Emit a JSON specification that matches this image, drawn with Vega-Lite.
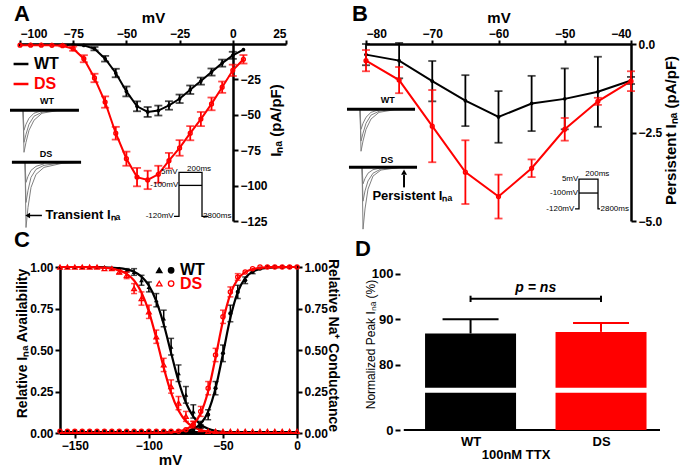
{
"$schema":"https://vega.github.io/schema/vega-lite/v6.json",
"background":"white",
"padding":{"left":8,"top":3,"right":4,"bottom":4},
"config":{"view":{"stroke":null},"font":"Liberation Sans",
"axis":{"grid":false,"domainColor":"black","domainWidth":2.5,"tickColor":"black","tickWidth":2,"tickSize":5,"labelFont":"Liberation Sans","labelFontSize":12,"labelFontWeight":"bold","labelColor":"black","titleFont":"Liberation Sans","titleFontSize":15,"titleFontWeight":"bold","titleColor":"black","labelPadding":2},
"title":{"fontSize":22,"fontWeight":"bold","font":"Liberation Sans","anchor":"start","color":"black","frame":"group"}},
"datasets":{
"a":[
{"v":-100,"wt":-0.5,"ewt":0,"ds":-0.8,"eds":0},
{"v":-95,"wt":-0.5,"ewt":0,"ds":-0.8,"eds":0},
{"v":-90,"wt":-0.5,"ewt":0,"ds":-0.8,"eds":0},
{"v":-85,"wt":-0.5,"ewt":0,"ds":-0.9,"eds":0},
{"v":-80,"wt":-0.5,"ewt":0,"ds":-1.2,"eds":0.5},
{"v":-75,"wt":-0.6,"ewt":0,"ds":-3.3,"eds":1.5},
{"v":-70,"wt":-1.0,"ewt":0,"ds":-10.4,"eds":2.5},
{"v":-65,"wt":-3.3,"ewt":1.2,"ds":-24,"eds":3},
{"v":-60,"wt":-10.4,"ewt":2,"ds":-41,"eds":4},
{"v":-55,"wt":-20.5,"ewt":3,"ds":-63,"eds":4.5},
{"v":-50,"wt":-33.5,"ewt":3.5,"ds":-81,"eds":5},
{"v":-45,"wt":-44,"ewt":3.5,"ds":-94,"eds":6.5},
{"v":-40,"wt":-48,"ewt":3.5,"ds":-96,"eds":6.5},
{"v":-35,"wt":-47,"ewt":3.5,"ds":-92,"eds":6},
{"v":-30,"wt":-43.4,"ewt":3,"ds":-82.4,"eds":5.5},
{"v":-25,"wt":-38.7,"ewt":3,"ds":-73.4,"eds":5.5},
{"v":-20,"wt":-32.3,"ewt":3,"ds":-63,"eds":5},
{"v":-15,"wt":-26.2,"ewt":2.5,"ds":-53,"eds":5},
{"v":-10,"wt":-19.8,"ewt":2.5,"ds":-42.3,"eds":4.5},
{"v":-5,"wt":-13.5,"ewt":2.5,"ds":-30.5,"eds":4},
{"v":0,"wt":-8,"ewt":2.5,"ds":-18.6,"eds":4},
{"v":5,"wt":-4,"ewt":0,"ds":-10.8,"eds":3}
],
"b":[
{"v":-80,"wt":-0.30,"ewt":0.3,"ds":-0.47,"eds":0.3},
{"v":-75,"wt":-0.47,"ewt":0.5,"ds":-1.02,"eds":0.37},
{"v":-70,"wt":-1.05,"ewt":0.57,"ds":-2.32,"eds":1.02},
{"v":-65,"wt":-1.6,"ewt":0.72,"ds":-3.62,"eds":0.9},
{"v":-60,"wt":-2.06,"ewt":0.73,"ds":-4.31,"eds":0.62},
{"v":-55,"wt":-1.68,"ewt":0.78,"ds":-3.51,"eds":0.25},
{"v":-50,"wt":-1.55,"ewt":0.86,"ds":-2.41,"eds":0.32},
{"v":-45,"wt":-1.35,"ewt":0.99,"ds":-1.62,"eds":0.1},
{"v":-40,"wt":-1.03,"ewt":0.1,"ds":-1.05,"eds":0.28}
],
"ta":[
{"id":"w1","x":-98.59,"y":-46.74},{"id":"w1","x":-98.12,"y":-76.49},{"id":"w1","x":-97.18,"y":-69.41},{"id":"w1","x":-95.77,"y":-60.91},{"id":"w1","x":-93.42,"y":-53.82},{"id":"w1","x":-89.66,"y":-48.87},{"id":"w1","x":-82.61,"y":-47.1},{"id":"w1","x":-73.21,"y":-46.74},
{"id":"w2","x":-98.59,"y":-46.74},{"id":"w2","x":-98.12,"y":-69.41},{"id":"w2","x":-97.18,"y":-63.74},{"id":"w2","x":-95.77,"y":-56.66},{"id":"w2","x":-93.42,"y":-50.99},{"id":"w2","x":-89.66,"y":-48.16},{"id":"w2","x":-82.61,"y":-46.74},
{"id":"w3","x":-98.59,"y":-46.74},{"id":"w3","x":-98.12,"y":-60.91},{"id":"w3","x":-97.18,"y":-56.66},{"id":"w3","x":-95.77,"y":-52.41},{"id":"w3","x":-93.42,"y":-48.87},{"id":"w3","x":-89.66,"y":-47.1},
{"id":"d1","x":-97.65,"y":-83.57},{"id":"d1","x":-97.18,"y":-129.6},{"id":"d1","x":-96.24,"y":-115.4},{"id":"d1","x":-94.83,"y":-101.3},{"id":"d1","x":-92.48,"y":-92.07},{"id":"d1","x":-88.72,"y":-87.11},{"id":"d1","x":-80.26,"y":-84.28},{"id":"d1","x":-71.33,"y":-83.57},
{"id":"d2","x":-97.65,"y":-83.57},{"id":"d2","x":-97.18,"y":-111.9},{"id":"d2","x":-96.24,"y":-103.4},{"id":"d2","x":-94.83,"y":-94.19},{"id":"d2","x":-92.48,"y":-88.53},{"id":"d2","x":-88.72,"y":-85.69},{"id":"d2","x":-80.26,"y":-83.92},
{"id":"d3","x":-97.65,"y":-83.57},{"id":"d3","x":-97.18,"y":-97.73},{"id":"d3","x":-96.24,"y":-93.48},{"id":"d3","x":-94.83,"y":-89.24},{"id":"d3","x":-92.48,"y":-86.4},{"id":"d3","x":-88.72,"y":-84.63}
],
"tb":[
{"id":"w1","x":-80.91,"y":-1.84},{"id":"w1","x":-80.75,"y":-3.03},{"id":"w1","x":-80.45,"y":-2.74},{"id":"w1","x":-80,"y":-2.41},{"id":"w1","x":-79.25,"y":-2.12},{"id":"w1","x":-78.04,"y":-1.93},{"id":"w1","x":-75.77,"y":-1.86},{"id":"w1","x":-72.6,"y":-1.84},
{"id":"w2","x":-80.91,"y":-1.84},{"id":"w2","x":-80.75,"y":-2.74},{"id":"w2","x":-80.45,"y":-2.52},{"id":"w2","x":-80,"y":-2.24},{"id":"w2","x":-79.25,"y":-2.01},{"id":"w2","x":-78.04,"y":-1.9},{"id":"w2","x":-75.77,"y":-1.84},
{"id":"w3","x":-80.91,"y":-1.84},{"id":"w3","x":-80.75,"y":-2.41},{"id":"w3","x":-80.45,"y":-2.24},{"id":"w3","x":-80,"y":-2.07},{"id":"w3","x":-79.25,"y":-1.93},{"id":"w3","x":-78.04,"y":-1.86},
{"id":"d1","x":-80.6,"y":-3.48},{"id":"d1","x":-80.45,"y":-5.23},{"id":"d1","x":-80.15,"y":-4.66},{"id":"d1","x":-79.7,"y":-4.1},{"id":"d1","x":-78.94,"y":-3.73},{"id":"d1","x":-77.74,"y":-3.56},{"id":"d1","x":-75.02,"y":-3.49},{"id":"d1","x":-72.3,"y":-3.48},
{"id":"d2","x":-80.6,"y":-3.48},{"id":"d2","x":-80.45,"y":-4.44},{"id":"d2","x":-80.15,"y":-4.15},{"id":"d2","x":-79.7,"y":-3.87},{"id":"d2","x":-78.94,"y":-3.65},{"id":"d2","x":-77.74,"y":-3.53},{"id":"d2","x":-75.02,"y":-3.49},
{"id":"d3","x":-80.6,"y":-3.48},{"id":"d3","x":-80.45,"y":-3.95},{"id":"d3","x":-80.15,"y":-3.8},{"id":"d3","x":-79.7,"y":-3.65},{"id":"d3","x":-78.94,"y":-3.55},{"id":"d3","x":-77.74,"y":-3.5}
],
"c":[
{"v":-160,"wi":1,"ewi":0,"di":1,"edi":0,"wa":0.01,"ewa":0,"da":0.01,"eda":0,"fwi":1,"fdi":1,"fwa":0,"fda":0},
{"v":-155,"wi":1,"ewi":0,"di":1,"edi":0,"wa":0.01,"ewa":0,"da":0.01,"eda":0,"fwi":1,"fdi":1,"fwa":0,"fda":0},
{"v":-150,"wi":1,"ewi":0,"di":1,"edi":0,"wa":0.01,"ewa":0,"da":0.01,"eda":0,"fwi":1,"fdi":1,"fwa":0,"fda":0},
{"v":-145,"wi":1,"ewi":0,"di":1,"edi":0,"wa":0.01,"ewa":0,"da":0.01,"eda":0,"fwi":1,"fdi":1,"fwa":0,"fda":0},
{"v":-140,"wi":1,"ewi":0,"di":1,"edi":0,"wa":0.01,"ewa":0,"da":0.01,"eda":0,"fwi":1,"fdi":0.999,"fwa":0,"fda":0},
{"v":-135,"wi":1,"ewi":0,"di":1,"edi":0,"wa":0.01,"ewa":0,"da":0.01,"eda":0,"fwi":0.999,"fdi":0.998,"fwa":0,"fda":0},
{"v":-130,"wi":1,"ewi":0,"di":0.99,"edi":0,"wa":0.01,"ewa":0,"da":0.01,"eda":0,"fwi":0.998,"fdi":0.995,"fwa":0,"fda":0},
{"v":-125,"wi":0.99,"ewi":0,"di":0.99,"edi":0,"wa":0.01,"ewa":0,"da":0.01,"eda":0,"fwi":0.996,"fdi":0.99,"fwa":0,"fda":0},
{"v":-120,"wi":0.99,"ewi":0,"di":0.97,"edi":0.01,"wa":0.01,"ewa":0,"da":0.01,"eda":0,"fwi":0.993,"fdi":0.979,"fwa":0,"fda":0},
{"v":-115,"wi":0.98,"ewi":0.01,"di":0.95,"edi":0.02,"wa":0.01,"ewa":0,"da":0.01,"eda":0,"fwi":0.985,"fdi":0.959,"fwa":0,"fda":0},
{"v":-110,"wi":0.97,"ewi":0.02,"di":0.87,"edi":0.03,"wa":0.01,"ewa":0,"da":0.01,"eda":0,"fwi":0.971,"fdi":0.919,"fwa":0,"fda":0},
{"v":-105,"wi":0.92,"ewi":0.03,"di":0.81,"edi":0.04,"wa":0.01,"ewa":0,"da":0.01,"eda":0,"fwi":0.942,"fdi":0.847,"fwa":0,"fda":0},
{"v":-100,"wi":0.88,"ewi":0.03,"di":0.73,"edi":0.04,"wa":0.01,"ewa":0,"da":0.01,"eda":0,"fwi":0.888,"fdi":0.731,"fwa":0,"fda":0},
{"v":-95,"wi":0.80,"ewi":0.04,"di":0.58,"edi":0.04,"wa":0.01,"ewa":0,"da":0.01,"eda":0,"fwi":0.795,"fdi":0.571,"fwa":0,"fda":0.001},
{"v":-90,"wi":0.69,"ewi":0.05,"di":0.41,"edi":0.04,"wa":0.01,"ewa":0,"da":0.01,"eda":0,"fwi":0.655,"fdi":0.394,"fwa":0.001,"fda":0.001},
{"v":-85,"wi":0.52,"ewi":0.05,"di":0.28,"edi":0.04,"wa":0.01,"ewa":0,"da":0.01,"eda":0,"fwi":0.482,"fdi":0.242,"fwa":0.002,"fda":0.004},
{"v":-80,"wi":0.36,"ewi":0.05,"di":0.18,"edi":0.04,"wa":0.01,"ewa":0,"da":0.01,"eda":0,"fwi":0.313,"fdi":0.135,"fwa":0.004,"fda":0.009},
{"v":-75,"wi":0.23,"ewi":0.05,"di":0.10,"edi":0.03,"wa":0.01,"ewa":0,"da":0.02,"eda":0,"fwi":0.182,"fdi":0.071,"fwa":0.01,"fda":0.022},
{"v":-70,"wi":0.13,"ewi":0.04,"di":0.05,"edi":0.02,"wa":0.02,"ewa":0,"da":0.05,"eda":0.02,"fwi":0.099,"fdi":0.036,"fwa":0.024,"fda":0.052},
{"v":-65,"wi":0.05,"ewi":0.02,"di":0.02,"edi":0,"wa":0.04,"ewa":0.01,"da":0.13,"eda":0.03,"fwi":0.051,"fdi":0.018,"fwa":0.056,"fda":0.119},
{"v":-60,"wi":0.02,"ewi":0,"di":0.01,"edi":0,"wa":0.11,"ewa":0.03,"da":0.27,"eda":0.04,"fwi":0.026,"fdi":0.009,"fwa":0.129,"fda":0.251},
{"v":-55,"wi":0.01,"ewi":0,"di":0.01,"edi":0,"wa":0.27,"ewa":0.04,"da":0.47,"eda":0.04,"fwi":0.013,"fdi":0.004,"fwa":0.269,"fda":0.455},
{"v":-50,"wi":0.01,"ewi":0,"di":0.01,"edi":0,"wa":0.48,"ewa":0.05,"da":0.70,"eda":0.04,"fwi":0.006,"fdi":0.002,"fwa":0.477,"fda":0.674},
{"v":-45,"wi":0.01,"ewi":0,"di":0.01,"edi":0,"wa":0.72,"ewa":0.05,"da":0.85,"eda":0.03,"fwi":0.003,"fdi":0.001,"fwa":0.694,"fda":0.837},
{"v":-40,"wi":0.01,"ewi":0,"di":0.01,"edi":0,"wa":0.85,"ewa":0.04,"da":0.94,"eda":0.02,"fwi":0.002,"fdi":0,"fwa":0.849,"fda":0.927},
{"v":-35,"wi":0.01,"ewi":0,"di":0.01,"edi":0,"wa":0.92,"ewa":0.02,"da":0.97,"eda":0,"fwi":0.001,"fdi":0,"fwa":0.933,"fda":0.969},
{"v":-30,"wi":0.01,"ewi":0,"di":0.01,"edi":0,"wa":0.97,"ewa":0.01,"da":0.99,"eda":0,"fwi":0,"fdi":0,"fwa":0.972,"fda":0.987},
{"v":-25,"wi":0.01,"ewi":0,"di":0.01,"edi":0,"wa":0.99,"ewa":0,"da":1,"eda":0,"fwi":0,"fdi":0,"fwa":0.988,"fda":0.995},
{"v":-20,"wi":0.01,"ewi":0,"di":0.01,"edi":0,"wa":1,"ewa":0,"da":1,"eda":0,"fwi":0,"fdi":0,"fwa":0.995,"fda":0.998},
{"v":-15,"wi":0.01,"ewi":0,"di":0.01,"edi":0,"wa":1,"ewa":0,"da":1,"eda":0,"fwi":0,"fdi":0,"fwa":0.998,"fda":0.999},
{"v":-10,"wi":0.01,"ewi":0,"di":0.01,"edi":0,"wa":1,"ewa":0,"da":1,"eda":0,"fwi":0,"fdi":0,"fwa":0.999,"fda":1},
{"v":-5,"wi":0.01,"ewi":0,"di":0.01,"edi":0,"wa":1,"ewa":0,"da":1,"eda":0,"fwi":0,"fdi":0,"fwa":1,"fda":1},
{"v":0,"wi":0.01,"ewi":0,"di":0.01,"edi":0,"wa":1,"ewa":0,"da":1,"eda":0,"fwi":0,"fdi":0,"fwa":1,"fda":1}
]
},
"bounds":"flush",
"columns":2,
"spacing":{"row":46,"column":46},
"concat":[
{"width":266,"height":177,
"title":{"text":"A","dx":-6,"dy":20},
"data":{"name":"a"},
"encoding":{"x":{"field":"v","type":"quantitative","scale":{"domain":[-100,25],"nice":false},"axis":{"orient":"top","values":[-100,-75,-50,-25,0,25],"title":"mV","titlePadding":2,"tickSize":4,"labelPadding":0}}},
"layer":[
{"mark":{"type":"line","strokeWidth":2},"encoding":{"y":{"field":"wt","type":"quantitative","title":"Iₙₐ (pA/pF)","scale":{"domain":[-125,0],"nice":false},"axis":{"orient":"right","offset":-53,"values":[-25,-50,-75,-100,-125],"titleAngle":270,"titleX":42,"titleY":76,"titleAlign":"center","titleBaseline":"middle"}},
 "color":{"datum":"WT","scale":{"domain":["WT","DS"],"range":["#000000","#ff0000"]},"legend":{"orient":"none","legendX":-8,"legendY":11,"title":null,"labelFontSize":16,"labelFontWeight":"bold","labelFont":"Liberation Sans","symbolType":"M-1,0L1,0","symbolStrokeWidth":2.5,"symbolSize":220,"rowPadding":3,"labelOffset":4,"encode":{"labels":{"update":{"fill":{"scale":"color","field":"value"}}}}}}}},
{"transform":[{"filter":"datum.ewt > 0"}],"mark":{"type":"errorbar","ticks":true,"size":8,"thickness":1.8,"color":"#000000"},"encoding":{"y":{"field":"wt","type":"quantitative","title":"Iₙₐ (pA/pF)"},"yError":{"field":"ewt"}}},
{"mark":{"type":"point","filled":true,"size":14,"color":"#000000","opacity":1},"encoding":{"y":{"field":"wt","type":"quantitative","title":"Iₙₐ (pA/pF)"}}},
{"mark":{"type":"line","strokeWidth":2},"encoding":{"y":{"field":"ds","type":"quantitative","title":"Iₙₐ (pA/pF)"},"color":{"datum":"DS"}}},
{"transform":[{"filter":"datum.eds > 0"}],"mark":{"type":"errorbar","ticks":true,"size":8,"thickness":1.8,"color":"#ff0000"},"encoding":{"y":{"field":"ds","type":"quantitative","title":"Iₙₐ (pA/pF)"},"yError":{"field":"eds"}}},
{"mark":{"type":"point","filled":false,"size":14,"color":"#ff0000","strokeWidth":1.5,"opacity":1},"encoding":{"y":{"field":"ds","type":"quantitative","title":"Iₙₐ (pA/pF)"}}},
{"data":{"name":"ta"},"mark":{"type":"line","color":"#808080","strokeWidth":1},"encoding":{"x":{"field":"x","type":"quantitative"},"y":{"field":"y","type":"quantitative","title":"Iₙₐ (pA/pF)"},"detail":{"field":"id"}}},
{"data":{"values":[{"x":-104.7,"x2":-72.3,"y":-46.74},{"x":-103.8,"x2":-71.3,"y":-83.57}]},"mark":{"type":"rule","color":"#000000","strokeWidth":3},"encoding":{"x":{"field":"x","type":"quantitative"},"x2":{"field":"x2"},"y":{"field":"y","type":"quantitative","title":"Iₙₐ (pA/pF)"}}},
{"data":{"values":[{"id":"p","o":1,"x":-27.63,"y":-121.8},{"id":"p","o":2,"x":-25.28,"y":-121.8},{"id":"p","o":3,"x":-25.28,"y":-90.65},{"id":"p","o":4,"x":-14.47,"y":-90.65},{"id":"p","o":5,"x":-14.47,"y":-121.8},{"id":"p","o":6,"x":-11.65,"y":-121.8},{"id":"m","o":1,"x":-25.28,"y":-99.86},{"id":"m","o":2,"x":-14.47,"y":-99.86}]},"mark":{"type":"line","color":"#000000","strokeWidth":1.3},"encoding":{"x":{"field":"x","type":"quantitative"},"y":{"field":"y","type":"quantitative","title":"Iₙₐ (pA/pF)"},"detail":{"field":"id"},"order":{"field":"o"}}},
{"data":{"values":[{"x":-26.0,"y":-90.65,"t":"5mV"},{"x":-25.6,"y":-99.86,"t":"-100mV"},{"x":-27.8,"y":-121.8,"t":"-120mV"}]},"mark":{"type":"text","align":"right","baseline":"middle","fontSize":8,"color":"#000000"},"encoding":{"x":{"field":"x","type":"quantitative"},"y":{"field":"y","type":"quantitative","title":"Iₙₐ (pA/pF)"},"text":{"field":"t"}}},
{"data":{"values":[{"x":-21.5,"y":-88.0,"t":"200ms"},{"x":-14.0,"y":-121.8,"t":"2800ms"}]},"mark":{"type":"text","align":"left","baseline":"middle","fontSize":8,"color":"#000000"},"encoding":{"x":{"field":"x","type":"quantitative"},"y":{"field":"y","type":"quantitative","title":"Iₙₐ (pA/pF)"},"text":{"field":"t"}}},
{"data":{"values":[{"x":-87.3,"y":-40.4,"t":"WT"},{"x":-87.8,"y":-77.9,"t":"DS"}]},"mark":{"type":"text","align":"center","baseline":"middle","fontSize":9,"fontWeight":"bold","color":"#000000"},"encoding":{"x":{"field":"x","type":"quantitative"},"y":{"field":"y","type":"quantitative","title":"Iₙₐ (pA/pF)"},"text":{"field":"t"}}},
{"data":{"values":[{"x":-89.7,"x2":-96.2,"y":-121.1}]},"mark":{"type":"rule","color":"#000000","strokeWidth":1.5},"encoding":{"x":{"field":"x","type":"quantitative"},"x2":{"field":"x2"},"y":{"field":"y","type":"quantitative","title":"Iₙₐ (pA/pF)"}}},
{"data":{"values":[{"x":-96.4,"y":-121.1}]},"mark":{"type":"point","shape":"triangle-left","filled":true,"size":30,"color":"#000000","opacity":1},"encoding":{"x":{"field":"x","type":"quantitative"},"y":{"field":"y","type":"quantitative","title":"Iₙₐ (pA/pF)"}}},
{"data":{"values":[{"x":-88.0,"y":-121.1,"t":"Transient Iₙₐ"}]},"mark":{"type":"text","align":"left","baseline":"middle","fontSize":13,"fontWeight":"bold","color":"#000000"},"encoding":{"x":{"field":"x","type":"quantitative"},"y":{"field":"y","type":"quantitative","title":"Iₙₐ (pA/pF)"},"text":{"field":"t"}}}
]},
{"width":265,"height":177,
"title":{"text":"B","dx":-14,"dy":20},
"data":{"name":"b"},
"encoding":{"x":{"field":"v","type":"quantitative","scale":{"domain":[-80,-40],"nice":false},"axis":{"orient":"top","values":[-80,-70,-60,-50,-40],"title":"mV","titlePadding":2,"tickSize":4,"labelPadding":0}}},
"layer":[
{"mark":{"type":"line","strokeWidth":2,"color":"#000000"},"encoding":{"y":{"field":"wt","type":"quantitative","title":"Persistent Iₙₐ (pA/pF)","scale":{"domain":[-5,0],"nice":false},"axis":{"orient":"right","values":[0,-2.5,-5],"format":".1f","titleAngle":270,"titleX":39,"titleY":86,"titleAlign":"center","titleBaseline":"middle"}}}},
{"mark":{"type":"errorbar","ticks":true,"size":8,"thickness":1.8,"color":"#000000"},"encoding":{"y":{"field":"wt","type":"quantitative","title":"Persistent Iₙₐ (pA/pF)"},"yError":{"field":"ewt"}}},
{"mark":{"type":"point","filled":true,"size":14,"color":"#000000","opacity":1},"encoding":{"y":{"field":"wt","type":"quantitative","title":"Persistent Iₙₐ (pA/pF)"}}},
{"mark":{"type":"line","strokeWidth":2,"color":"#ff0000"},"encoding":{"y":{"field":"ds","type":"quantitative","title":"Persistent Iₙₐ (pA/pF)"}}},
{"mark":{"type":"errorbar","ticks":true,"size":8,"thickness":1.8,"color":"#ff0000"},"encoding":{"y":{"field":"ds","type":"quantitative","title":"Persistent Iₙₐ (pA/pF)"},"yError":{"field":"eds"}}},
{"mark":{"type":"point","filled":false,"size":14,"color":"#ff0000","strokeWidth":1.5,"opacity":1},"encoding":{"y":{"field":"ds","type":"quantitative","title":"Persistent Iₙₐ (pA/pF)"}}},
{"data":{"name":"tb"},"mark":{"type":"line","color":"#808080","strokeWidth":1},"encoding":{"x":{"field":"x","type":"quantitative"},"y":{"field":"y","type":"quantitative","title":"Persistent Iₙₐ (pA/pF)"},"detail":{"field":"id"}}},
{"data":{"values":[{"x":-82.87,"x2":-72.6,"y":-1.84},{"x":-82.57,"x2":-72.3,"y":-3.48}]},"mark":{"type":"rule","color":"#000000","strokeWidth":3},"encoding":{"x":{"field":"x","type":"quantitative"},"x2":{"field":"x2"},"y":{"field":"y","type":"quantitative","title":"Persistent Iₙₐ (pA/pF)"}}},
{"data":{"values":[{"id":"p","o":1,"x":-48.45,"y":-4.66},{"id":"p","o":2,"x":-47.85,"y":-4.66},{"id":"p","o":3,"x":-47.85,"y":-3.815},{"id":"p","o":4,"x":-44.98,"y":-3.815},{"id":"p","o":5,"x":-44.98,"y":-4.66},{"id":"p","o":6,"x":-44.68,"y":-4.66},{"id":"m","o":1,"x":-47.85,"y":-4.21},{"id":"m","o":2,"x":-44.98,"y":-4.21}]},"mark":{"type":"line","color":"#000000","strokeWidth":1.3},"encoding":{"x":{"field":"x","type":"quantitative"},"y":{"field":"y","type":"quantitative","title":"Persistent Iₙₐ (pA/pF)"},"detail":{"field":"id"},"order":{"field":"o"}}},
{"data":{"values":[{"x":-47.95,"y":-3.815,"t":"5mV"},{"x":-48.0,"y":-4.21,"t":"-100mV"},{"x":-48.55,"y":-4.66,"t":"-120mV"}]},"mark":{"type":"text","align":"right","baseline":"middle","fontSize":8,"color":"#000000"},"encoding":{"x":{"field":"x","type":"quantitative"},"y":{"field":"y","type":"quantitative","title":"Persistent Iₙₐ (pA/pF)"},"text":{"field":"t"}}},
{"data":{"values":[{"x":-46.9,"y":-3.68,"t":"200ms"},{"x":-44.6,"y":-4.66,"t":"2800ms"}]},"mark":{"type":"text","align":"left","baseline":"middle","fontSize":8,"color":"#000000"},"encoding":{"x":{"field":"x","type":"quantitative"},"y":{"field":"y","type":"quantitative","title":"Persistent Iₙₐ (pA/pF)"},"text":{"field":"t"}}},
{"data":{"values":[{"x":-76.7,"y":-1.59,"t":"WT"},{"x":-76.83,"y":-3.28,"t":"DS"}]},"mark":{"type":"text","align":"center","baseline":"middle","fontSize":9,"fontWeight":"bold","color":"#000000"},"encoding":{"x":{"field":"x","type":"quantitative"},"y":{"field":"y","type":"quantitative","title":"Persistent Iₙₐ (pA/pF)"},"text":{"field":"t"}}},
{"data":{"values":[{"x":-74.26,"y":-4.05,"y2":-3.7}]},"mark":{"type":"rule","color":"#000000","strokeWidth":2},"encoding":{"x":{"field":"x","type":"quantitative"},"y":{"field":"y","type":"quantitative","title":"Persistent Iₙₐ (pA/pF)"},"y2":{"field":"y2"}}},
{"data":{"values":[{"x":-74.26,"y":-3.62}]},"mark":{"type":"point","shape":"triangle-up","filled":true,"size":35,"color":"#000000","opacity":1},"encoding":{"x":{"field":"x","type":"quantitative"},"y":{"field":"y","type":"quantitative","title":"Persistent Iₙₐ (pA/pF)"}}},
{"data":{"values":[{"x":-73.0,"y":-4.28,"t":"Persistent Iₙₐ"}]},"mark":{"type":"text","align":"center","baseline":"middle","fontSize":13,"fontWeight":"bold","color":"#000000"},"encoding":{"x":{"field":"x","type":"quantitative"},"y":{"field":"y","type":"quantitative","title":"Persistent Iₙₐ (pA/pF)"},"text":{"field":"t"}}}
]},
{"width":300,"height":166,
"title":{"text":"C","dx":-6,"offset":6},
"data":{"name":"c"},
"encoding":{"x":{"field":"v","type":"quantitative","scale":{"domain":[-187,15.5],"nice":false},"axis":{"orient":"bottom","values":[-150,-100,-50,0],"domain":false,"title":"mV","titlePadding":1}}},
"resolve":{"scale":{"y":"independent"}},
"layer":[
{"layer":[
{"mark":{"type":"rule","strokeWidth":2.5,"color":"#000000"},"encoding":{"x":{"datum":-160},"x2":{"datum":0},"y":{"datum":0,"type":"quantitative","title":"Relative Iₙₐ Availability","scale":{"domain":[0,1],"nice":false},"axis":{"orient":"left","offset":-40,"values":[0,0.25,0.5,0.75,1],"format":".2f","titleFontSize":14,"titleX":-38,"titleY":76,"titleAngle":270,"titleAlign":"center","titleBaseline":"middle"}}}},
{"mark":{"type":"line","strokeWidth":2.2,"color":"#000000","interpolate":"monotone"},"encoding":{"y":{"field":"fwi","type":"quantitative","title":"Relative Iₙₐ Availability"}}},
{"transform":[{"filter":"datum.ewi > 0"}],"mark":{"type":"errorbar","ticks":true,"size":6,"thickness":1.5,"color":"#000000"},"encoding":{"y":{"field":"wi","type":"quantitative","title":"Relative Iₙₐ Availability"},"yError":{"field":"ewi"}}},
{"mark":{"type":"point","shape":"triangle-up","filled":true,"size":22,"color":"#000000","opacity":1},"encoding":{"y":{"field":"wi","type":"quantitative","title":"Relative Iₙₐ Availability"}}},
{"mark":{"type":"line","strokeWidth":2.2,"color":"#ff0000","interpolate":"monotone"},"encoding":{"y":{"field":"fdi","type":"quantitative","title":"Relative Iₙₐ Availability"}}},
{"transform":[{"filter":"datum.edi > 0"}],"mark":{"type":"errorbar","ticks":true,"size":6,"thickness":1.5,"color":"#ff0000"},"encoding":{"y":{"field":"di","type":"quantitative","title":"Relative Iₙₐ Availability"},"yError":{"field":"edi"}}},
{"mark":{"type":"point","shape":"triangle-up","filled":false,"size":22,"strokeWidth":1.3,"color":"#ff0000","opacity":1},"encoding":{"y":{"field":"di","type":"quantitative","title":"Relative Iₙₐ Availability"}}},
{"data":{"values":[{"x":-93,"y":0.98,"k":"a"},{"x":-85,"y":0.98,"k":"b"},{"x":-93,"y":0.9,"k":"c"},{"x":-85,"y":0.9,"k":"d"}]},
 "mark":{"type":"point","size":30,"strokeWidth":1.3,"opacity":1},
 "encoding":{"x":{"field":"x","type":"quantitative"},"y":{"field":"y","type":"quantitative","title":"Relative Iₙₐ Availability"},
 "shape":{"field":"k","scale":{"domain":["a","b","c","d"],"range":["triangle-up","circle","triangle-up","circle"]},"legend":null},
 "fill":{"field":"k","scale":{"domain":["a","b","c","d"],"range":["#000000","#000000","#ffffff","#ffffff"]},"legend":null},
 "stroke":{"field":"k","scale":{"domain":["a","b","c","d"],"range":["#000000","#000000","#ff0000","#ff0000"]},"legend":null}}},
{"data":{"values":[{"x":-79,"y":0.98,"t":"WT"}]},"mark":{"type":"text","align":"left","baseline":"middle","fontSize":16,"fontWeight":"bold","color":"#000000"},"encoding":{"x":{"field":"x","type":"quantitative"},"y":{"field":"y","type":"quantitative","title":"Relative Iₙₐ Availability"},"text":{"field":"t"}}},
{"data":{"values":[{"x":-79,"y":0.9,"t":"DS"}]},"mark":{"type":"text","align":"left","baseline":"middle","fontSize":16,"fontWeight":"bold","color":"#ff0000"},"encoding":{"x":{"field":"x","type":"quantitative"},"y":{"field":"y","type":"quantitative","title":"Relative Iₙₐ Availability"},"text":{"field":"t"}}}
]},
{"layer":[
{"mark":{"type":"line","strokeWidth":2.2,"color":"#000000","interpolate":"monotone"},"encoding":{"y":{"field":"fwa","type":"quantitative","title":"Relative Na⁺ Conductance","scale":{"domain":[0,1],"nice":false},"axis":{"orient":"right","offset":-23,"values":[0,0.25,0.5,0.75,1],"format":".2f","titleFontSize":14,"titleX":35,"titleY":78,"titleAngle":90,"titleAlign":"center","titleBaseline":"middle"}}}},
{"transform":[{"filter":"datum.ewa > 0"}],"mark":{"type":"errorbar","ticks":true,"size":6,"thickness":1.5,"color":"#000000"},"encoding":{"y":{"field":"wa","type":"quantitative","title":"Relative Na⁺ Conductance"},"yError":{"field":"ewa"}}},
{"mark":{"type":"point","shape":"circle","filled":true,"size":18,"color":"#000000","opacity":1},"encoding":{"y":{"field":"wa","type":"quantitative","title":"Relative Na⁺ Conductance"}}},
{"mark":{"type":"line","strokeWidth":2.2,"color":"#ff0000","interpolate":"monotone"},"encoding":{"y":{"field":"fda","type":"quantitative","title":"Relative Na⁺ Conductance"}}},
{"transform":[{"filter":"datum.eda > 0"}],"mark":{"type":"errorbar","ticks":true,"size":6,"thickness":1.5,"color":"#ff0000"},"encoding":{"y":{"field":"da","type":"quantitative","title":"Relative Na⁺ Conductance"},"yError":{"field":"eda"}}},
{"mark":{"type":"point","shape":"circle","filled":false,"size":18,"strokeWidth":1.3,"color":"#ff0000","opacity":1},"encoding":{"y":{"field":"da","type":"quantitative","title":"Relative Na⁺ Conductance"}}}
]}
]},
{"width":299,"height":163,
"title":{"text":"D","dx":-11,"offset":6},
"data":{"values":[{"g":"WT","i":1,"v":86.9,"hi":90.0},{"g":"DS","i":2,"v":87.25,"hi":89.2}]},
"encoding":{"x":{"field":"i","type":"quantitative","scale":{"domain":[0.237,2.452],"nice":false,"zero":false},"axis":{"values":[1,2],"labelExpr":"datum.value == 1 ? 'WT' : 'DS'","domain":false,"ticks":false,"title":"100nM TTX","labelFontSize":13,"titleFontSize":13,"labelPadding":5,"titlePadding":0}}},
"layer":[
{"mark":{"type":"rule","strokeWidth":2,"color":"#000000"},"encoding":{"x":{"datum":0.489},"x2":{"datum":2.452},"y":{"datum":65.7,"type":"quantitative","title":"Normalized Peak  Iₙₐ (%)","scale":{"domain":[65.7,101.5],"nice":false,"zero":false},"axis":{"orient":"left","offset":-34,"domain":false,"values":[65.7,80,90,100],"labelExpr":"datum.value < 70 ? '0' : datum.label","labelOverlap":false,"titleFontWeight":"normal","titleFontSize":12,"labelFontSize":13,"titleX":-30,"titleY":77,"titleAngle":270,"titleAlign":"center","titleBaseline":"middle"}}}},
{"transform":[{"filter":"datum.g == 'WT'"}],"mark":{"type":"bar","width":91,"color":"#000000"},"encoding":{"y":{"field":"v","type":"quantitative","title":"Normalized Peak  Iₙₐ (%)"},"y2":{"datum":65.7}}},
{"transform":[{"filter":"datum.g == 'DS'"}],"mark":{"type":"bar","width":91,"color":"#ff0000"},"encoding":{"y":{"field":"v","type":"quantitative","title":"Normalized Peak  Iₙₐ (%)"},"y2":{"datum":65.7}}},
{"transform":[{"filter":"datum.g == 'WT'"}],"mark":{"type":"rule","strokeWidth":2,"color":"#000000"},"encoding":{"y":{"field":"v","type":"quantitative","title":"Normalized Peak  Iₙₐ (%)"},"y2":{"field":"hi"}}},
{"transform":[{"filter":"datum.g == 'DS'"}],"mark":{"type":"rule","strokeWidth":2,"color":"#ff0000"},"encoding":{"y":{"field":"v","type":"quantitative","title":"Normalized Peak  Iₙₐ (%)"},"y2":{"field":"hi"}}},
{"transform":[{"filter":"datum.g == 'WT'"}],"mark":{"type":"tick","orient":"horizontal","thickness":2,"size":56,"opacity":1,"color":"#000000"},"encoding":{"y":{"field":"hi","type":"quantitative","title":"Normalized Peak  Iₙₐ (%)"}}},
{"transform":[{"filter":"datum.g == 'DS'"}],"mark":{"type":"tick","orient":"horizontal","thickness":2,"size":56,"opacity":1,"color":"#ff0000"},"encoding":{"y":{"field":"hi","type":"quantitative","title":"Normalized Peak  Iₙₐ (%)"}}},
{"data":{"values":[{"i":1,"lo":73.9,"hi":75.0},{"i":2,"lo":73.9,"hi":75.0}]},"mark":{"type":"bar","width":95,"color":"#ffffff"},"encoding":{"x":{"field":"i","type":"quantitative"},"y":{"field":"lo","type":"quantitative","title":"Normalized Peak  Iₙₐ (%)"},"y2":{"field":"hi"}}},
{"data":{"values":[{"lo":65.7,"hi":73.9},{"lo":75.0,"hi":100}]},"mark":{"type":"rule","color":"#000000","strokeWidth":2},"encoding":{"x":{"datum":0.489},"y":{"field":"lo","type":"quantitative","title":"Normalized Peak  Iₙₐ (%)"},"y2":{"field":"hi"}}},
{"data":{"values":[{"y":73.9},{"y":75.0}]},"mark":{"type":"rule","color":"#000000","strokeWidth":2},"encoding":{"x":{"datum":0.452},"x2":{"datum":0.489},"y":{"field":"y","type":"quantitative","title":"Normalized Peak  Iₙₐ (%)"}}},
{"data":{"values":[{"i":1,"y":94.5},{"i":2,"y":94.5}]},"mark":{"type":"line","color":"#000000","strokeWidth":2},"encoding":{"x":{"field":"i","type":"quantitative"},"y":{"field":"y","type":"quantitative","title":"Normalized Peak  Iₙₐ (%)"}}},
{"data":{"values":[{"i":1,"y":94.5},{"i":2,"y":94.5}]},"mark":{"type":"point","shape":"M0,-1L0,1","filled":false,"color":"#000000","strokeWidth":2,"size":40,"opacity":1},"encoding":{"x":{"field":"i","type":"quantitative"},"y":{"field":"y","type":"quantitative","title":"Normalized Peak  Iₙₐ (%)"}}},
{"data":{"values":[{"t":"p = ns","i":1.5,"y":96.9}]},"mark":{"type":"text","fontStyle":"italic","fontWeight":"bold","fontSize":14,"baseline":"middle","color":"#000000"},"encoding":{"x":{"field":"i","type":"quantitative"},"y":{"field":"y","type":"quantitative","title":"Normalized Peak  Iₙₐ (%)"},"text":{"field":"t"}}}
]}
]
}
